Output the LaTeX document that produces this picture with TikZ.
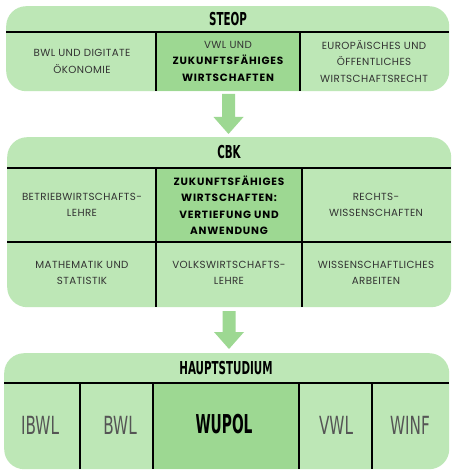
\documentclass[tikz,border=0pt]{standalone}
\usepackage{fontspec}
\usetikzlibrary{calc}
\newfontfamily\cellfont{Poppins}[LetterSpace=4]
\newfontfamily\cellbold{Poppins}[LetterSpace=8]
\newfontfamily\hdb{DejaVu Sans}[FakeStretch=0.58]
\newfontfamily\hdbb{DejaVu Sans}[FakeStretch=0.53]
\newfontfamily\hdr{DejaVu Sans}[FakeStretch=0.61]
\definecolor{lightg}{HTML}{BDE7B6}
\definecolor{darkg}{HTML}{9DD892}
\definecolor{txt}{HTML}{333333}
\definecolor{lbl}{HTML}{555555}
\begin{document}
\begin{tikzpicture}[x=1pt,y=-1pt,
  panel/.style={fill=lightg, rounded corners=20pt, inner sep=0pt, anchor=north west},
  hilite/.style={fill=darkg},
  rule/.style={line width=1.6pt, black},
  flow/.style={fill=darkg},
  title/.style={font=\hdb\bfseries\fontsize{17.8}{20}\selectfont, inner sep=0pt},
  cell/.style={font=\cellfont\fontsize{10.3}{16.5}\selectfont, text=txt, align=center, inner sep=0pt},
  cellb/.style={font=\cellbold\bfseries\fontsize{10.5}{16.5}\selectfont, text=black, align=center, inner sep=0pt},
  big/.style={font=\hdr\fontsize{25}{28}\selectfont, text=lbl, inner sep=0pt},
  bigb/.style={font=\hdbb\bfseries\fontsize{26}{28}\selectfont, text=black, inner sep=0pt}
]
\useasboundingbox[fill=white] (0,0) rectangle (454,473);

% ---- STEOP ----
\node[panel, minimum width=443pt, minimum height=85pt] (steop) at (6,6) {};
\fill[hilite] (156,32) rectangle (300,91);
\draw[rule] (6,32) -- (449,32);
\draw[rule] (156,32) -- (156,91);
\draw[rule] (300,32) -- (300,91);
\node[title] (t1) at (228,19) {STEOP};
\node[cell] (c11) at (82,61.5) {BWL UND DIGITATE\\ÖKONOMIE};
\node[cell] (c12) at (228,61) {VWL UND\\{\cellbold\bfseries\fontsize{10.5}{16.5}\selectfont\color{black}ZUKUNFTSFÄHIGES}\\{\cellbold\bfseries\fontsize{10.5}{16.5}\selectfont\color{black}WIRTSCHAFTEN}};
\node[cell] (c13) at (374,61.5) {EUROPÄISCHES UND\\ÖFFENTLICHES\\WIRTSCHAFTSRECHT};

% arrow 1
\coordinate (a1) at (228.5,94);
\coordinate (a1t) at (228.5,134);
\fill[flow] (a1) ++(-6.5,0) -- ++(13,0) -- ++(0,23) -- ++(8.5,0) -- (a1t) -- ++(-15,-17) -- ++(8.5,0) -- cycle;

% ---- CBK ----
\node[panel, minimum width=444pt, minimum height=170pt] (cbk) at (7,137) {};
\fill[hilite] (156,168) rectangle (302,242);
\draw[rule] (7,168) -- (451,168);
\draw[rule] (7,242) -- (451,242);
\draw[rule] (156,168) -- (156,307);
\draw[rule] (302,168) -- (302,307);
\node[title] (t2) at (229,152) {CBK};
\node[cell] (c21) at (82,205) {BETRIEBWIRTSCHAFTS-\\LEHRE};
\node[cellb] (c22) at (229,205) {ZUKUNFTSFÄHIGES\\WIRTSCHAFTEN:\\VERTIEFUNG UND\\ANWENDUNG};
\node[cell] (c23) at (376,205) {RECHTS-\\WISSENSCHAFTEN};
\node[cell] (c31) at (82,273) {MATHEMATIK UND\\STATISTIK};
\node[cell] (c32) at (229,273) {VOLKSWIRTSCHAFTS-\\LEHRE};
\node[cell] (c33) at (376,273) {WISSENSCHAFTLICHES\\ARBEITEN};

% arrow 2
\coordinate (a2) at (229,311);
\coordinate (a2t) at (229,349);
\fill[flow] (a2) ++(-6.5,0) -- ++(13,0) -- ++(0,21) -- ++(8.5,0) -- (a2t) -- ++(-15,-17) -- ++(8.5,0) -- cycle;

% ---- HAUPTSTUDIUM ----
\node[panel, minimum width=445pt, minimum height=116pt] (haupt) at (4,353) {};
\fill[hilite] (153,383) rectangle (299,469);
\draw[rule] (4,383) -- (449,383);
\draw[rule] (80,383) -- (80,469);
\draw[rule] (153,383) -- (153,469);
\draw[rule] (299,383) -- (299,469);
\draw[rule] (372,383) -- (372,469);
\node[title] (t3) at (226,368) {HAUPTSTUDIUM};
\node[big] (ibwl) at (40,425) {IBWL};
\node[big] (bwl) at (120,425) {BWL};
\node[bigb] (wupol) at (224,424) {WUPOL};
\node[big] (vwl) at (336,425) {VWL};
\node[big] (winf) at (410,425) {WINF};
\end{tikzpicture}
\end{document}
